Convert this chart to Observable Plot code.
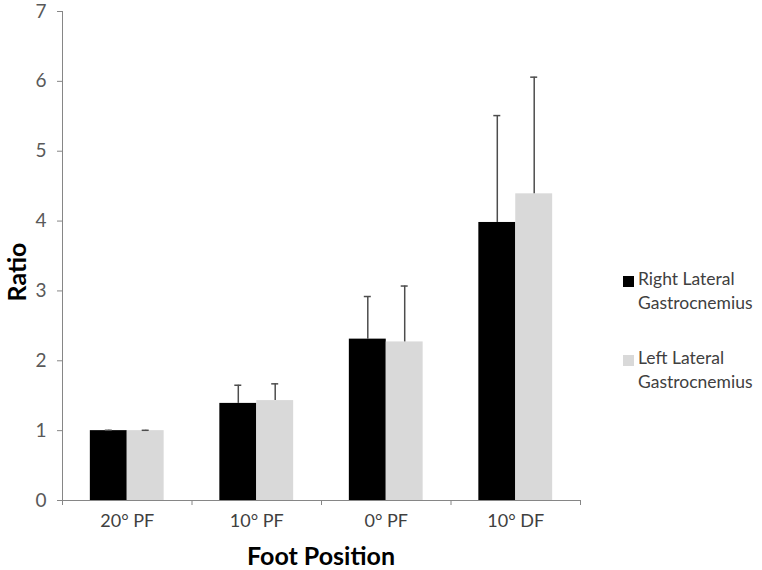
<!DOCTYPE html>
<html>
<head>
<meta charset="utf-8">
<script src="https://cdn.jsdelivr.net/npm/d3@7"></script>
<script src="https://cdn.jsdelivr.net/npm/@observablehq/plot@0.6"></script>
<style>
  html, body { margin: 0; padding: 0; background: #fff; }
  #wrap { position: relative; width: 762px; height: 570px; font-family: Lato, "Open Sans", sans-serif; }
  .title { position: absolute; font-weight: bold; font-size: 25px; color: #000; white-space: nowrap; }
  .leg { position: absolute; font-size: 17.5px; color: #404040; line-height: 24px; white-space: nowrap; }
  .sw { position: absolute; width: 11px; height: 11px; }
</style>
</head>
<body>
<div id="wrap"></div>
<script>
const categories = ["20° PF", "10° PF", "0° PF", "10° DF"];
const seriesNames = ["Right Lateral Gastrocnemius", "Left Lateral Gastrocnemius"];
const seriesColors = ["#000000", "#d9d9d9"];
const rightMean = [1.0, 1.39, 2.31, 3.98];
const rightErr = [0.005, 0.26, 0.61, 1.53];
const leftMean = [1.0, 1.43, 2.27, 4.39];
const leftErr = [0.005, 0.24, 0.80, 1.67];
const yTicks = [0, 1, 2, 3, 4, 5, 6, 7];

const barW = 0.285, groupStart = 0.215, capHalf = 0.027;
const rows = categories.flatMap((c, i) => [
  {cat: c, i, s: 0, v: rightMean[i], e: rightErr[i]},
  {cat: c, i, s: 1, v: leftMean[i], e: leftErr[i]}
]).map(d => {
  const x1 = d.i + groupStart + d.s * barW;
  return {...d, x1, x2: x1 + barW, xc: x1 + barW / 2, top: d.v + d.e};
});

const axisGrey = "#868686";
const chart = Plot.plot({
  width: 762, height: 570,
  marginLeft: 62, marginRight: 182, marginTop: 11, marginBottom: 70,
  style: {fontFamily: "Lato, 'Open Sans', sans-serif", background: "#fff"},
  x: {domain: [0, categories.length], axis: null},
  y: {domain: [0, 7], axis: null},
  marks: [
    Plot.rectY(rows, {x1: "x1", x2: "x2", y1: 0, y2: "v", fill: d => seriesColors[d.s]}),
    Plot.ruleX(rows, {x: "xc", y1: "v", y2: "top", stroke: "#4d4d4d", strokeWidth: 1.5}),
    Plot.ruleY(rows, {x1: d => d.xc - capHalf, x2: d => d.xc + capHalf, y: "top", stroke: "#4d4d4d", strokeWidth: 1.5}),
    Plot.ruleX([0], {stroke: axisGrey}),
    Plot.ruleY([0], {stroke: axisGrey}),
    Plot.axisY(yTicks, {tickSize: 5, tickPadding: 11, fontSize: 19, stroke: axisGrey, fill: "#595959", tickFormat: d3.format("d"), label: null}),
    Plot.axisX(d3.range(categories.length + 1), {tickSize: 5, tickFormat: () => "", stroke: axisGrey, label: null}),
    Plot.axisX(categories.map((c, i) => i + 0.5), {tickSize: 0, tickPadding: 14, fontSize: 18, fill: "#404040",
      tickFormat: d => categories[Math.floor(d)], label: null})
  ]
});
const wrap = document.getElementById("wrap");
wrap.appendChild(chart);

function addDiv(cls, text, css) {
  const el = document.createElement("div");
  el.className = cls;
  if (text != null) el.innerHTML = text;
  Object.assign(el.style, css);
  wrap.appendChild(el);
  return el;
}
addDiv("title", "Ratio", {left: "16px", top: "272px", transform: "translate(-50%,-50%) rotate(-90deg)"});
addDiv("title", "Foot Position", {left: "321px", top: "555px", transform: "translate(-50%,-50%)"});
const legTops = [267, 346];
seriesNames.forEach((name, k) => {
  const words = name.split(" ");
  addDiv("sw", null, {left: "623px", top: (legTops[k] + 9) + "px", background: seriesColors[k]});
  addDiv("leg", words.slice(0, 2).join(" ") + "<br>" + words.slice(2).join(" "), {left: "638px", top: legTops[k] + "px"});
});
</script>
</body>
</html>
